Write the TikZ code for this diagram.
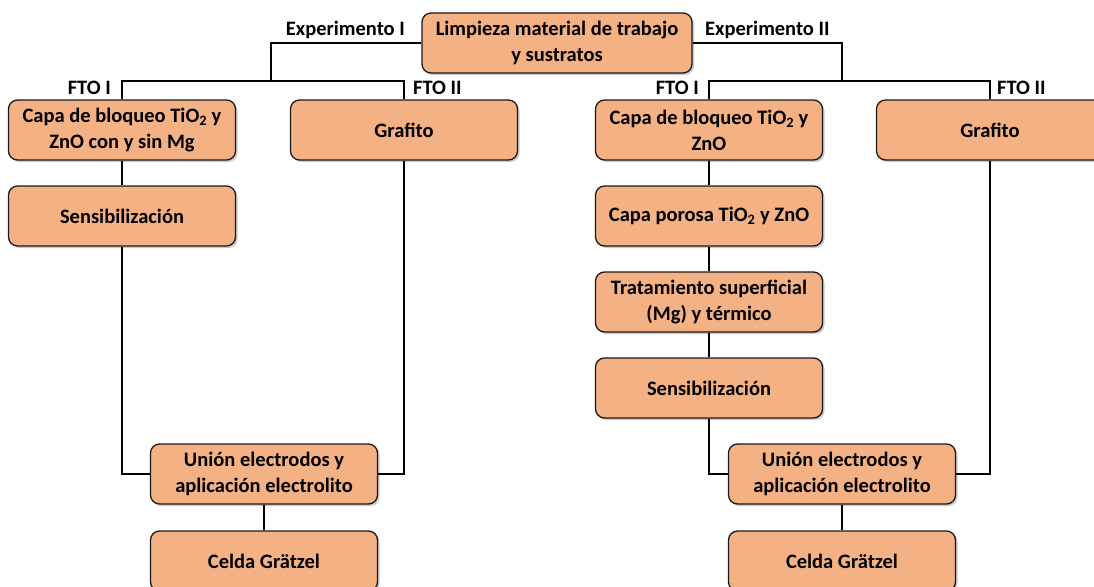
\documentclass[tikz,border=0pt]{standalone}
\usepackage{fontspec}
\setmainfont{Carlito}
\usetikzlibrary{shadows}
\definecolor{boxfill}{RGB}{244,177,131}
\definecolor{boxline}{RGB}{25,25,25}
\begin{document}
\begin{tikzpicture}[x=1pt,y=-1pt,
  stepbox/.style={draw=boxline, line width=1.3pt, fill=boxfill, rounded corners=9pt,
    minimum width=227pt, minimum height=60pt, align=center, inner sep=2pt,
    font=\fontsize{20.5}{26}\selectfont\bfseries,
    drop shadow={shadow xshift=2pt, shadow yshift=-2pt, opacity=0.35, fill=black!60}},
  lbl/.style={font=\fontsize{20.5}{24}\selectfont\bfseries, inner sep=0pt},
  conn/.style={draw=black, line width=1.3pt}]
\useasboundingbox (0,0) rectangle (1094,586);

% top
\node[stepbox, minimum width=270pt] (top) at (557,43) {Limpieza material de trabajo\\y sustratos};

% experiment I
\node[stepbox] (capaA) at (122,130) {Capa de bloqueo TiO\textsubscript{2} y\\ZnO con y sin Mg};
\node[stepbox] (sensA) at (122,216) {Sensibilización};
\node[stepbox] (grafA) at (404,130) {Grafito};
\node[stepbox] (unionA) at (264,474) {Unión electrodos y\\aplicación electrolito};
\node[stepbox] (celdaA) at (264,561) {Celda Grätzel};

% experiment II
\node[stepbox] (capaB) at (709,130) {Capa de bloqueo TiO\textsubscript{2} y\\ZnO};
\node[stepbox] (porB) at (709,216) {Capa porosa TiO\textsubscript{2} y ZnO};
\node[stepbox] (tratB) at (709,302) {Tratamiento superficial\\(Mg) y térmico};
\node[stepbox] (sensB) at (709,388) {Sensibilización};
\node[stepbox] (grafB) at (990,130) {Grafito};
\node[stepbox] (unionB) at (842,474) {Unión electrodos y\\aplicación electrolito};
\node[stepbox] (celdaB) at (842,561) {Celda Grätzel};

\coordinate (jA) at (271,81);
\coordinate (jB) at (842,81);

% connectors
\draw[conn] (top.west) -| (jA);
\draw[conn] (capaA.north) |- (jA) -| (grafA.north);
\draw[conn] (capaA) -- (sensA);
\draw[conn] (sensA) |- (unionA);
\draw[conn] (grafA) |- (unionA);
\draw[conn] (unionA) -- (celdaA);

\draw[conn] (top.east) -| (jB);
\draw[conn] (capaB.north) |- (jB) -| (grafB.north);
\draw[conn] (capaB) -- (porB);
\draw[conn] (porB) -- (tratB);
\draw[conn] (tratB) -- (sensB);
\draw[conn] (sensB) |- (unionB);
\draw[conn] (grafB) |- (unionB);
\draw[conn] (unionB) -- (celdaB);

% labels
\node[lbl, anchor=east] (expA) at (405,30) {Experimento I};
\node[lbl, anchor=west] (expB) at (705,30) {Experimento II};
\node[lbl, anchor=east] (ftoA1) at (111,88) {FTO I};
\node[lbl, anchor=west] (ftoA2) at (413,88) {FTO II};
\node[lbl, anchor=east] (ftoB1) at (699,88) {FTO I};
\node[lbl, anchor=west] (ftoB2) at (997,88) {FTO II};
\end{tikzpicture}
\end{document}
